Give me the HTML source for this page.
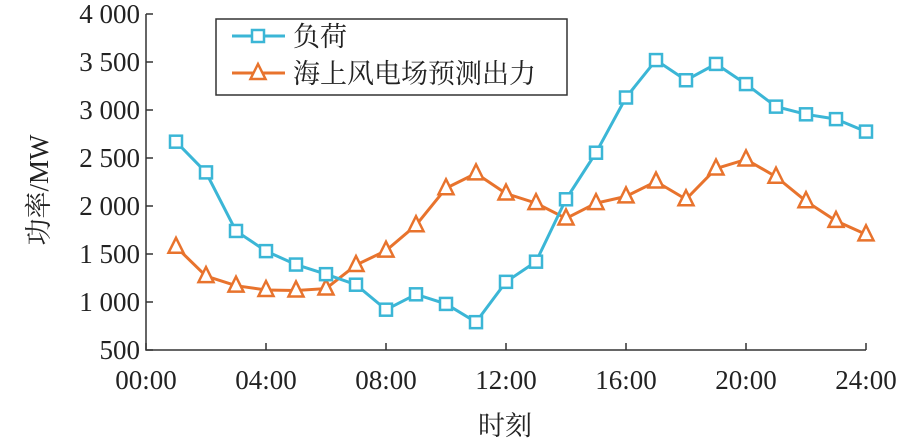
<!DOCTYPE html>
<html><head><meta charset="utf-8"><style>
body{margin:0;background:#fff}
svg text{font-family:"Liberation Serif","Noto Serif CJK SC",serif;fill:#222}
</style></head><body>
<svg width="922" height="443" viewBox="0 0 922 443">
<g id="axes"></g>
<g id="series"></g>
<g>
<rect x="216" y="19" width="351" height="76" fill="#fff" stroke="#333" stroke-width="1.5"/>
<g>
<line x1="232" y1="36" x2="285" y2="36" stroke="#3bb6d6" stroke-width="3"/>
<rect x="252" y="30" width="12" height="12" fill="#fff" stroke="#3bb6d6" stroke-width="2.5"/>
<text x="293" y="46" font-size="27">负荷</text></g>
<g>
<line x1="232" y1="73" x2="285" y2="73" stroke="#e8732d" stroke-width="3"/>
<polygon points="258,64 265.5,79 250.5,79" fill="#fff" stroke="#e8732d" stroke-width="2.5"/>
<text x="293" y="83" font-size="27">海上风电场预测出力</text></g>
</g>
<text x="505" y="435" font-size="27" text-anchor="middle">时刻</text>
<text transform="translate(48,190) rotate(-90)" font-size="27" text-anchor="middle">功率/MW</text>
</svg>
<script>
const hours=[1,2,3,4,5,6,7,8,9,10,11,12,13,14,15,16,17,18,19,20,21,22,23,24];
const loadValues=[2670,2350,1740,1530,1390,1290,1180,920,1080,980,790,1210,1420,2070,2555,3130,3520,3310,3480,3270,3035,2955,2905,2775];
const windValues=[1575,1270,1170,1125,1120,1140,1385,1535,1800,2185,2340,2130,2030,1870,2030,2100,2255,2070,2390,2485,2305,2050,1845,1705];
const yTicks=[500,1000,1500,2000,2500,3000,3500,4000];
const yTickLabels=["500","1 000","1 500","2 000","2 500","3 000","3 500","4 000"];
const xTicks=[0,4,8,12,16,20,24];
const xTickLabels=["00:00","04:00","08:00","12:00","16:00","20:00","24:00"];
const NS="http://www.w3.org/2000/svg";
const X=h=>146+h*30, Y=v=>350-(v-500)*0.096;
function mk(tag,attrs,parent){const e=document.createElementNS(NS,tag);for(const k in attrs)e.setAttribute(k,attrs[k]);parent.appendChild(e);return e;}
const ax=document.getElementById('axes'), se=document.getElementById('series');
let e=mk('path',{d:`M146,${Y(4000)}V350H${X(24)}`,fill:'none',stroke:'#333','stroke-width':1.5},ax);


yTicks.forEach((v,i)=>{
 let t=mk('line',{x1:146,x2:153,y1:Y(v),y2:Y(v),stroke:'#333','stroke-width':1.5},ax);
 
 
 let l=mk('text',{x:140,y:Y(v)+9,'font-size':27,'text-anchor':'end'},ax);l.textContent=yTickLabels[i];
 
 
});
xTicks.forEach((h,i)=>{
 let t=mk('line',{x1:X(h),x2:X(h),y1:350,y2:343,stroke:'#333','stroke-width':1.5},ax);
 
 
 let l=mk('text',{x:X(h),y:389,'font-size':27,'text-anchor':'middle'},ax);l.textContent=xTickLabels[i];
 
 
});
function series(vals,color,shape,name){
 const g=mk('g',{},se);
 
 
 let p=mk('polyline',{points:hours.map((h,i)=>X(h)+','+Y(vals[i])).join(' '),fill:'none',stroke:color,'stroke-width':3},g);
 
 
 hours.forEach((h,i)=>{
  const x=X(h),y=Y(vals[i]);let m;
  if(shape==='sq')m=mk('rect',{x:x-6,y:y-6,width:12,height:12,fill:'#fff',stroke:color,'stroke-width':2.5},g);
  else m=mk('polygon',{points:`${x},${y-9} ${x+7.5},${y+6} ${x-7.5},${y+6}`,fill:'#fff',stroke:color,'stroke-width':2.5},g);
  
  
 });
}
series(windValues,'#e8732d','tri','wind-series');
series(loadValues,'#3bb6d6','sq','load-series');
</script>
</body></html>
